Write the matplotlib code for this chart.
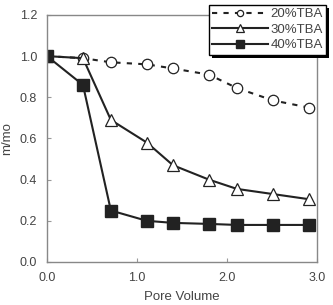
import numpy as np
import matplotlib.pyplot as plt
import matplotlib.patheffects as pe

plt.rcParams['font.family'] = ['Liberation Sans', 'DejaVu Sans']

pore_volume = [0.0, 0.4, 0.71, 1.11, 1.4, 1.8, 2.11, 2.51, 2.91]
tba20 = [1.0, 0.99, 0.97, 0.96, 0.94, 0.91, 0.845, 0.785, 0.75]
tba30 = [1.0, 0.99, 0.69, 0.58, 0.47, 0.40, 0.355, 0.33, 0.305]
tba40 = [1.0, 0.86, 0.25, 0.20, 0.19, 0.185, 0.18, 0.18, 0.18]

fig = plt.figure(figsize=(3.33, 3.05), dpi=100)
ax = fig.add_axes([0.141, 0.141, 0.811, 0.81])

ink = '#222222'
ax.plot(pore_volume, tba20, color=ink, lw=1.5, ls=(0, (2.5, 3)), marker='o',
        markersize=7.5, markerfacecolor='white', markeredgecolor=ink, markeredgewidth=0.9,
        label='20%TBA')
ax.plot(pore_volume, tba30, color=ink, lw=1.5, marker='^',
        markersize=9, markerfacecolor='white', markeredgecolor=ink, markeredgewidth=0.9,
        label='30%TBA')
ax.plot(pore_volume, tba40, color=ink, lw=1.5, marker='s',
        markersize=8.5, markerfacecolor=ink, markeredgecolor=ink,
        label='40%TBA')

ax.set_xlim(0, 3.0)
ax.set_ylim(0, 1.2)
ax.set_xticks([0, 1, 2, 3])
ax.set_xticklabels(['0.0', '1.0', '2.0', '3.0'])
ax.set_yticks(np.arange(0, 1.21, 0.2))
ax.set_yticklabels(['0.0', '0.2', '0.4', '0.6', '0.8', '1.0', '1.2'])
ax.tick_params(direction='in', length=3, color='#999999', labelsize=9, labelcolor='#444444', pad=7)
for s in ax.spines.values():
    s.set_color('#888888')
    s.set_linewidth(1.0)

ax.set_xlabel('Pore Volume', fontsize=9.5, color='#444444', labelpad=5)
ax.set_ylabel('m/mo', fontsize=9.5, color='#444444', labelpad=5)

leg = ax.legend(loc='upper right', bbox_to_anchor=(0.979, 0.984), bbox_transform=fig.transFigure,
                fontsize=9.5, frameon=True, fancybox=False, framealpha=1, handlelength=4.2,
                markerscale=0.6, borderpad=0.25, labelspacing=0.25, handletextpad=0.2,
                borderaxespad=0)
frame = leg.get_frame()
frame.set_edgecolor('black')
frame.set_facecolor('white')
frame.set_linewidth(1.0)
# solid black drop shadow, offset down-right
frame.set_path_effects([pe.SimplePatchShadow(offset=(2.2, -2.2), shadow_rgbFace='black', alpha=1.0),
                        pe.Normal()])
for t in leg.get_texts():
    t.set_color('#444444')

fig.savefig('out.png', dpi=100)
